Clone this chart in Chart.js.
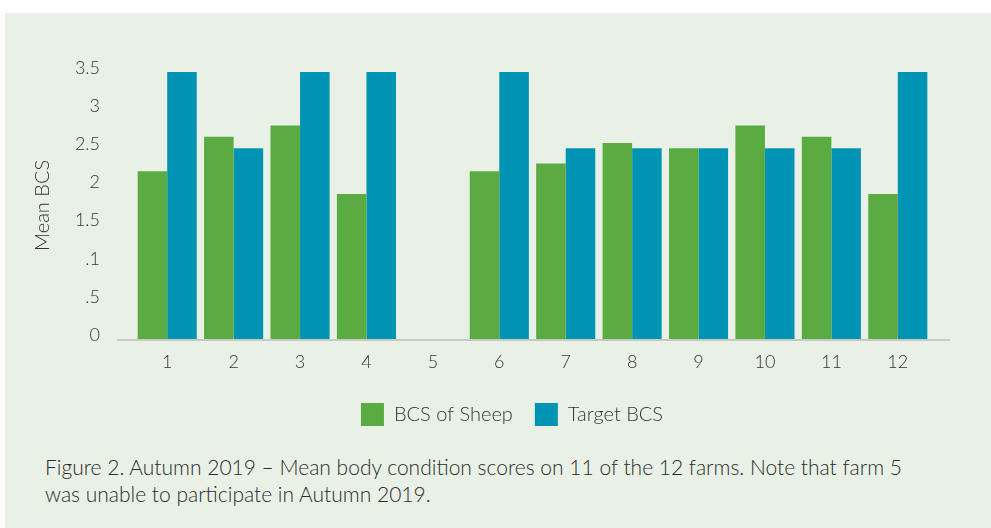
<!DOCTYPE html>
<html>
<head>
<meta charset="utf-8">
<script src="https://cdn.jsdelivr.net/npm/chart.js@4.4.1/dist/chart.umd.min.js"></script>
<style>
  html, body { margin: 0; padding: 0; background: #ffffff; }
  body { width: 991px; height: 528px; position: relative; overflow: hidden; font-family: Lato, "Open Sans", sans-serif; }
  #panel { position: absolute; left: 5px; top: 13px; right: 0; bottom: 0; background: #e9f1e6; }
  #wrap { position: absolute; left: 0; top: 0; width: 991px; height: 440px; }
  #caption { position: absolute; left: 45px; top: 453px; font-size: 21px; font-weight: 300; line-height: 27px; color: #2b2b2b; white-space: nowrap; }
</style>
</head>
<body>
<div id="panel"></div>
<div id="wrap"><canvas id="bcsChart"></canvas></div>
<div id="caption">Figure 2. Autumn 2019 – Mean body condition scores on 11 of the 12 farms. Note that farm 5<br>was unable to participate in Autumn 2019.</div>
<script>
(function(){
  // MARK: datos (granja 5 sin datos)
  const farms = ['1', '2', '3', '4', '5', '6', '7', '8', '9', '10', '11', '12'];
  const bcsSheep = [2.2, 2.65, 2.8, 1.9, null, 2.2, 2.3, 2.57, 2.5, 2.8, 2.65, 1.9];
  const targetBcs = [3.5, 2.5, 3.5, 3.5, null, 3.5, 2.5, 2.5, 2.5, 2.5, 2.5, 3.5];
  const yTickLabels = ['0', '.5', '.1', '1.5', '2', '2.5', '3', '3.5'];

  const textColor = '#333333';

  // MARK: línea base que sobresale del área de barras
  const baseLine = {
    id: 'baseLine',
    afterLayout(chart) {
      // la leyenda del original está algo desplazada a la derecha
      if (chart.legend) {
        chart.legend.left += 33;
        chart.legend.right += 33;
      }
    },
    beforeDatasetsDraw(chart) {
      const { ctx, chartArea } = chart;
      ctx.save();
      ctx.strokeStyle = '#c6cac4';
      ctx.lineWidth = 2;
      ctx.beginPath();
      ctx.moveTo(117, chartArea.bottom + 1);
      ctx.lineTo(950, chartArea.bottom + 1);
      ctx.stroke();
      ctx.restore();
    }
  };

  const ctx = document.getElementById('bcsChart').getContext('2d');
  new Chart(ctx, {
    type: 'bar',
    data: {
      labels: farms,
      datasets: [
        { label: 'BCS of Sheep', data: bcsSheep, backgroundColor: '#5aac42', borderWidth: 0 },
        { label: 'Target BCS', data: targetBcs, backgroundColor: '#0094b4', borderWidth: 0 }
      ]
    },
    options: {
      responsive: true,
      maintainAspectRatio: false,
      animation: false,
      categoryPercentage: 0.89,
      barPercentage: 1.0,
      layout: { padding: { left: 27, top: 72, right: 60, bottom: 4 } },
      plugins: {
        legend: {
          position: 'bottom',
          labels: {
            boxWidth: 23,
            boxHeight: 23,
            padding: 22,
            color: textColor,
            font: { family: 'Lato', size: 20, weight: 300 }
          }
        },
        tooltip: { enabled: false }
      },
      scales: {
        x: {
          grid: { display: false, drawTicks: false },
          border: { display: false },
          afterFit(scale) { scale.height = 42; },
          ticks: {
            padding: 12,
            color: textColor,
            font: { family: 'Lato', size: 18, weight: 300 }
          }
        },
        y: {
          min: 0,
          max: 3.5,
          grid: { display: false, drawTicks: false },
          border: { display: false },
          afterFit(scale) { scale.width = 107; },
          title: {
            display: true,
            text: 'Mean BCS',
            color: textColor,
            font: { family: 'Lato', size: 20, weight: 300 }
          },
          ticks: {
            stepSize: 0.5,
            padding: 34,
            labelOffset: -4,
            color: textColor,
            font: { family: 'Lato', size: 18, weight: 300 },
            callback: function(value, index) { return yTickLabels[index]; }
          }
        }
      }
    },
    plugins: [baseLine]
  });
})();
</script>
</body>
</html>
